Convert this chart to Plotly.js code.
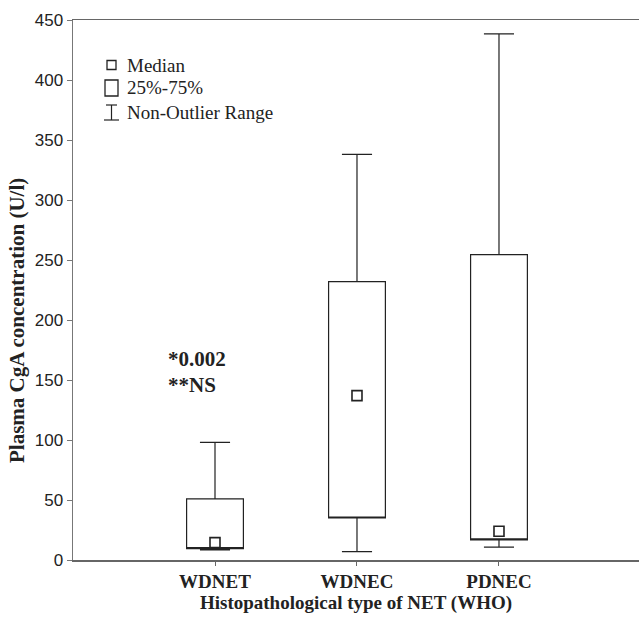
<!DOCTYPE html>
<html>
<head>
<meta charset="utf-8">
<script src="https://cdn.plot.ly/plotly-3.0.1.min.js"></script>
<style>html,body{margin:0;padding:0;background:#fff;}#chart{width:639px;height:617px;}</style>
</head>
<body>
<div id="chart"></div>
<script>
// Data
var categories = ["WDNET", "WDNEC", "PDNEC"];
var medians    = [14.5, 137, 24];
var q1Values   = [9.5, 35, 16.7];
var q3Values   = [51, 232, 254.5];
var lowerWhisk = [8.5, 7, 10.8];
var upperWhisk = [98, 338, 438.5];
var yTicks     = [0, 50, 100, 150, 200, 250, 300, 350, 400, 450];
var legendLabels = ["Median", "25%-75%", "Non-Outlier Range"];
var statNotes  = ["*0.002", "**NS"];

var ink = "#222";
var serif = "Liberation Serif, Times New Roman, serif";
var sans = "Liberation Sans, Arial, sans-serif";

var boxTrace = {
  type: "box",
  x: categories,
  q1: q1Values,
  median: q1Values,          // median shown as a square marker instead of a line
  q3: q3Values,
  lowerfence: lowerWhisk,
  upperfence: upperWhisk,
  boxpoints: false,
  width: 0.4,
  whiskerwidth: 0.53,
  fillcolor: "rgba(255,255,255,1)",
  line: {color: ink, width: 1.2},
  hoverinfo: "skip",
  showlegend: false
};

var medianTrace = {
  type: "scatter",
  mode: "markers",
  x: categories,
  y: medians,
  marker: {symbol: "square-open", size: 10, color: ink, line: {color: ink, width: 1.6}},
  hoverinfo: "skip",
  showlegend: false
};

// plot geometry helpers (paper coords) for the hand-drawn legend
var L = 73, T = 20, W = 566, H = 540;
function px(x) { return (x - L) / W; }
function py(y) { return (T + H - y) / H; }

var shapes = [
  {type: "rect", xref: "paper", yref: "paper", x0: px(107), x1: px(116), y0: py(69.5), y1: py(60.5), line: {color: ink, width: 1.3}},
  {type: "rect", xref: "paper", yref: "paper", x0: px(105), x1: px(118), y0: py(96), y1: py(80), line: {color: ink, width: 1.3}},
  {type: "line", xref: "paper", yref: "paper", x0: px(106), x1: px(117), y0: py(105), y1: py(105), line: {color: ink, width: 1.2}},
  {type: "line", xref: "paper", yref: "paper", x0: px(111.5), x1: px(111.5), y0: py(105), y1: py(120), line: {color: ink, width: 1.2}},
  {type: "line", xref: "paper", yref: "paper", x0: px(104), x1: px(119), y0: py(120), y1: py(120), line: {color: ink, width: 1.2}}
];

var annotations = [
  {xref: "paper", yref: "paper", x: px(125), y: py(65), xanchor: "left", yanchor: "middle", text: legendLabels[0], showarrow: false, font: {family: serif, size: 19, color: ink}},
  {xref: "paper", yref: "paper", x: px(125), y: py(88), xanchor: "left", yanchor: "middle", text: legendLabels[1], showarrow: false, font: {family: serif, size: 19, color: ink}},
  {xref: "paper", yref: "paper", x: px(125), y: py(112), xanchor: "left", yanchor: "middle", text: legendLabels[2], showarrow: false, font: {family: serif, size: 19, color: ink}},
  {xref: "paper", yref: "paper", x: px(166), y: py(359), xanchor: "left", yanchor: "middle", text: "<b>" + statNotes[0] + "</b>", showarrow: false, font: {family: serif, size: 21, color: ink}},
  {xref: "paper", yref: "paper", x: px(166), y: py(385), xanchor: "left", yanchor: "middle", text: "<b>" + statNotes[1] + "</b>", showarrow: false, font: {family: serif, size: 21, color: ink}},
  {xref: "paper", yref: "paper", x: px(17), y: py(321), xanchor: "center", yanchor: "middle", textangle: -90, text: "<b>Plasma CgA concentration (U/l)</b>", showarrow: false, font: {family: serif, size: 21, color: ink}}
];

var layout = {
  width: 639,
  height: 617,
  margin: {l: L, r: 0, t: T, b: 617 - T - H, pad: 0},
  paper_bgcolor: "#fff",
  plot_bgcolor: "#fff",
  showlegend: false,
  xaxis: {
    type: "category",
    range: [-1, 2.986],
    showline: true,
    mirror: true,
    linecolor: "#666",
    linewidth: 1.5,
    ticks: "outside",
    ticklen: 4,
    tickcolor: "#666",
    showgrid: false,
    zeroline: false,
    tickfont: {family: serif, size: 19, color: ink, weight: "bold"},
    title: {text: "<b>Histopathological type of NET (WHO)</b>", font: {family: serif, size: 19, color: ink}, standoff: 4}
  },
  yaxis: {
    range: [0, 450],
    tickvals: yTicks,
    showline: true,
    linecolor: "#777",
    linewidth: 1.5,
    ticks: "outside",
    ticklen: 5,
    tickcolor: "#777",
    showgrid: false,
    zeroline: false,
    tickfont: {family: sans, size: 17, color: ink}
  },
  shapes: shapes,
  annotations: annotations
};

Plotly.newPlot("chart", [boxTrace, medianTrace], layout, {displayModeBar: false, staticPlot: true});
</script>
</body>
</html>
